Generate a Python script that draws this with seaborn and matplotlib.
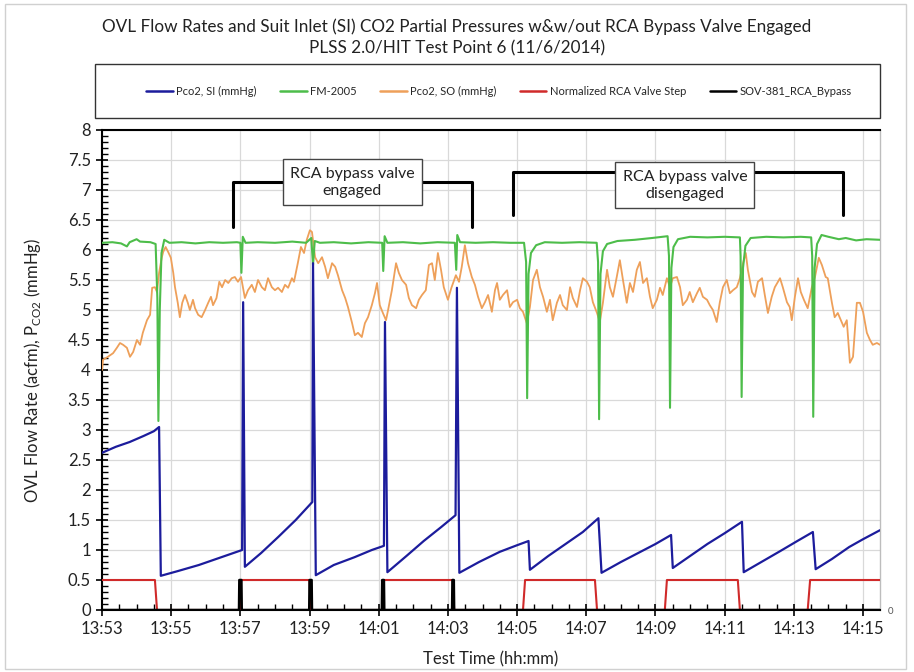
import numpy as np
import pandas as pd
import matplotlib
matplotlib.use("Agg")
import matplotlib.pyplot as plt
import seaborn as sns
from matplotlib.ticker import MultipleLocator, FuncFormatter
from matplotlib.patches import Rectangle
from matplotlib.lines import Line2D

# ---------------- data (minutes after 13:53) ----------------
si_t = [0.0, 0.4, 0.8, 1.2, 1.5, 1.65, 1.70, 2.2, 2.8, 3.4, 3.9, 4.05, 4.08, 4.13,
        4.6, 5.1, 5.6, 6.08, 6.10, 6.18, 6.7, 7.3, 7.8, 8.15, 8.18, 8.25, 8.8, 9.3,
        9.8, 10.22, 10.26, 10.33, 10.9, 11.5, 12.0, 12.33, 12.37, 12.9, 13.4, 13.9,
        14.35, 14.44, 15.0, 15.5, 16.0, 16.45, 16.50, 17.0, 17.5, 18.0, 18.5, 18.55,
        19.0, 19.6, 20.1, 20.55, 20.63, 21.1, 21.6, 22.0, 22.49]
si_v = [2.62, 2.72, 2.80, 2.90, 2.98, 3.05, 0.57, 0.65, 0.75, 0.87, 0.97, 1.00, 5.13, 0.72,
        0.95, 1.22, 1.50, 1.80, 5.78, 0.58, 0.75, 0.88, 1.00, 1.07, 4.80, 0.63, 0.90, 1.15,
        1.38, 1.58, 5.37, 0.62, 0.80, 0.97, 1.08, 1.15, 0.67, 0.90, 1.10, 1.30,
        1.53, 0.62, 0.80, 0.95, 1.10, 1.25, 0.70, 0.90, 1.10, 1.28, 1.47, 0.63,
        0.78, 0.98, 1.15, 1.30, 0.68, 0.85, 1.05, 1.18, 1.33]

fm_t = [0.0, 0.3, 0.55, 0.72, 0.8, 1.0, 1.1, 1.4, 1.55, 1.60, 1.63, 1.67, 1.72, 1.8, 1.95,
        2.3, 2.7, 3.1, 3.5, 3.9, 4.0, 4.03, 4.07, 4.15, 4.5, 5.0, 5.5, 5.9, 6.05, 6.10,
        6.15, 6.3, 6.7, 7.2, 7.7, 8.1, 8.13, 8.17, 8.25, 8.7, 9.2, 9.7, 10.2, 10.24,
        10.27, 10.35, 10.8, 11.3, 11.8, 12.2, 12.26, 12.29, 12.33, 12.4, 12.55, 12.8,
        13.3, 13.8, 14.3, 14.34, 14.37, 14.41, 14.48, 14.6, 14.9, 15.4, 15.9, 16.35,
        16.39, 16.42, 16.46, 16.52, 16.65, 17.0, 17.5, 18.0, 18.44, 18.46, 18.49, 18.53,
        18.6, 18.75, 19.2, 19.7, 20.2, 20.5, 20.53, 20.56, 20.6, 20.67, 20.8, 21.0,
        21.3, 21.5, 21.8, 22.1, 22.49]
fm_v = [6.12, 6.13, 6.11, 6.06, 6.13, 6.18, 6.14, 6.13, 6.10, 5.20, 3.15, 5.00, 5.95, 6.17, 6.12,
        6.13, 6.11, 6.13, 6.12, 6.13, 6.12, 5.62, 6.22, 6.12, 6.13, 6.12, 6.14, 6.12, 6.20, 5.75,
        6.15, 6.12, 6.13, 6.11, 6.13, 6.12, 5.65, 6.23, 6.12, 6.13, 6.11, 6.13, 6.12, 5.67,
        6.25, 6.13, 6.12, 6.13, 6.12, 6.12, 5.80, 3.53, 5.60, 5.95, 6.08, 6.13,
        6.12, 6.13, 6.12, 5.80, 3.18, 5.60, 5.98, 6.10, 6.15, 6.17, 6.20, 6.23,
        5.90, 3.37, 5.70, 6.05, 6.18, 6.22, 6.21, 6.22, 6.21, 5.90, 3.55, 5.70,
        6.07, 6.20, 6.22, 6.21, 6.22, 6.21, 5.90, 3.22, 5.70, 6.10, 6.25, 6.22,
        6.18, 6.20, 6.16, 6.18, 6.17]

so_t = [0.0, 0.03, 0.17, 0.32, 0.43, 0.52, 0.61, 0.72, 0.81, 0.90, 1.01, 1.10, 1.18, 1.30,
        1.39, 1.45, 1.53, 1.59, 1.65, 1.73, 1.77, 1.84, 1.91, 1.99, 2.06, 2.11, 2.19, 2.25,
        2.32, 2.40, 2.48, 2.54, 2.63, 2.69, 2.78, 2.88, 2.98, 3.07, 3.15, 3.21, 3.31, 3.39,
        3.47, 3.56, 3.65, 3.75, 3.84, 3.93, 4.02, 4.13, 4.22, 4.33, 4.42, 4.51, 4.62, 4.71,
        4.80, 4.91, 5.00, 5.09, 5.20, 5.29, 5.38, 5.49, 5.55, 5.66, 5.75, 5.84, 5.92, 6.01,
        6.07, 6.16, 6.25, 6.36, 6.45, 6.53, 6.65, 6.74, 6.82, 6.94, 7.03, 7.11, 7.23, 7.31,
        7.40, 7.51, 7.60, 7.69, 7.80, 7.89, 7.95, 8.03, 8.12, 8.21, 8.27, 8.38, 8.50, 8.58,
        8.67, 8.79, 8.87, 8.96, 9.08, 9.16, 9.25, 9.36, 9.45, 9.54, 9.62, 9.71, 9.80, 9.88,
        10.00, 10.10, 10.23, 10.32, 10.40, 10.49, 10.58, 10.69, 10.78, 10.87, 10.98, 11.07,
        11.16, 11.27, 11.36, 11.42, 11.50, 11.59, 11.71, 11.79, 11.88, 12.00, 12.08, 12.17,
        12.28, 12.37, 12.46, 12.57, 12.66, 12.75, 12.86, 12.95, 13.03, 13.15, 13.24, 13.32,
        13.44, 13.53, 13.61, 13.73, 13.82, 13.90, 14.02, 14.10, 14.19, 14.31, 14.39, 14.48,
        14.60, 14.68, 14.77, 14.88, 14.97, 15.06, 15.17, 15.26, 15.35, 15.46, 15.55, 15.64,
        15.75, 15.84, 15.92, 16.04, 16.13, 16.21, 16.33, 16.42, 16.50, 16.62, 16.71, 16.79,
        16.91, 16.99, 17.08, 17.20, 17.28, 17.37, 17.49, 17.57, 17.66, 17.77, 17.86, 17.95,
        18.06, 18.15, 18.24, 18.35, 18.44, 18.53, 18.61, 18.67, 18.79, 18.87, 18.96, 19.08,
        19.16, 19.25, 19.36, 19.45, 19.60, 19.68, 19.80, 19.88, 19.94, 20.03, 20.12, 20.20,
        20.29, 20.40, 20.52, 20.61, 20.72, 20.81, 20.92, 20.98, 21.10, 21.18, 21.27, 21.36,
        21.44, 21.53, 21.62, 21.71, 21.82, 21.91, 22.00, 22.11, 22.20, 22.28, 22.40, 22.49]
so_v = [4.00, 4.17, 4.22, 4.28, 4.37, 4.45, 4.42, 4.37, 4.22, 4.30, 4.50, 4.42, 4.62, 4.83,
        4.92, 5.37, 5.38, 5.30, 5.62, 5.88, 5.97, 6.05, 5.97, 5.87, 5.62, 5.38, 5.12, 4.88,
        5.12, 5.25, 5.12, 5.00, 5.17, 5.03, 4.92, 4.88, 5.00, 5.12, 5.22, 5.08, 5.20, 5.47,
        5.38, 5.50, 5.45, 5.53, 5.55, 5.47, 5.55, 5.20, 5.33, 5.42, 5.30, 5.50, 5.38, 5.33,
        5.53, 5.38, 5.33, 5.37, 5.30, 5.42, 5.37, 5.53, 5.47, 5.78, 6.05, 5.95, 6.17, 6.33,
        6.30, 5.88, 5.78, 5.88, 5.72, 5.53, 5.78, 5.72, 5.58, 5.33, 5.20, 5.05, 4.78, 4.58,
        4.62, 4.55, 4.78, 4.88, 5.08, 5.28, 5.45, 5.08, 4.95, 4.83, 5.00, 5.33, 5.78, 5.62,
        5.50, 5.42, 5.20, 5.08, 5.03, 5.17, 5.25, 5.33, 5.75, 5.78, 5.50, 5.95, 5.67, 5.38,
        5.17, 5.37, 5.58, 5.47, 5.72, 6.08, 5.78, 5.55, 5.42, 5.22, 5.03, 5.13,
        5.25, 4.97, 5.33, 5.45, 5.17, 5.25, 5.33, 5.05, 5.13, 5.17, 5.03, 4.97,
        4.78, 5.05, 5.50, 5.67, 5.38, 5.22, 4.97, 5.17, 4.83, 5.12, 5.25, 5.08,
        5.00, 5.38, 5.20, 5.05, 5.33, 5.53, 5.47, 5.38, 5.13, 4.95, 4.80, 5.12,
        5.67, 5.38, 5.22, 5.55, 5.83, 5.50, 5.12, 5.45, 5.30, 5.67, 5.80, 5.45,
        5.53, 5.22, 5.03, 5.17, 5.37, 5.25, 5.53, 5.38, 5.53, 5.55, 5.38, 5.08,
        5.17, 5.30, 5.13, 5.28, 5.37, 5.22, 5.17, 5.08, 5.00, 4.80, 5.13, 5.38,
        5.50, 5.28, 5.33, 5.38, 5.53, 5.78, 5.95, 5.67, 5.30, 5.22, 5.47, 5.53,
        5.25, 4.95, 5.22, 5.38, 5.53, 5.38, 5.13, 5.05, 4.83, 5.22, 5.53, 5.30,
        5.17, 5.03, 5.38, 5.55, 5.87, 5.75, 5.55, 5.53, 5.12, 4.88, 4.95, 4.83,
        4.72, 4.83, 4.12, 4.22, 5.12, 5.12, 4.97, 4.62, 4.50, 4.42, 4.45, 4.42]

rca_t = [0.0, 1.53, 1.59, 3.99, 4.02, 6.00, 6.03, 8.10, 8.13, 10.14, 10.18, 12.17, 12.23,
         14.25, 14.31, 16.27, 16.33, 18.38, 18.44, 20.40, 20.47, 22.49]
rca_v = [0.5, 0.5, 0.0, 0.0, 0.5, 0.5, 0.0, 0.0, 0.5, 0.5, 0.0, 0.0, 0.5,
         0.5, 0.0, 0.0, 0.5, 0.5, 0.0, 0.0, 0.5, 0.5]

sov_t = [0.0, 3.96, 3.97, 4.03, 4.04, 5.99, 6.00, 6.06, 6.07, 8.09, 8.10, 8.15, 8.16,
         10.12, 10.13, 10.17, 10.18, 22.49]
sov_v = [0.0, 0.0, 0.5, 0.5, 0.0, 0.0, 0.5, 0.5, 0.0, 0.0, 0.5, 0.5, 0.0,
         0.0, 0.5, 0.5, 0.0, 0.0]

tick_minutes = [0, 2, 4, 6, 8, 10, 12, 14, 16, 18, 20, 22]
tick_labels = ["13:53", "13:55", "13:57", "13:59", "14:01", "14:03",
               "14:05", "14:07", "14:09", "14:11", "14:13", "14:15"]

series_names = ["Pco2, SI (mmHg)", "FM-2005", "Pco2, SO (mmHg)",
                "Normalized RCA Valve Step", "SOV-381_RCA_Bypass"]
series_colors = ["#1c1c9c", "#4dbd4a", "#eea05a", "#d02a2a", "#000000"]

# ---------------- figure ----------------
sns.set_theme(style="white")
plt.rcParams['font.family'] = ['Lato', 'DejaVu Sans']

fig = plt.figure(figsize=(9.14, 6.72), dpi=100)
ax = fig.add_axes([102/914, 62/672, 778/914, 480/672])

# outer chart border
fig.patches.append(Rectangle((0.006, 0.004), 0.985, 0.99, transform=fig.transFigure,
                             fill=False, edgecolor="#d0d0d0", linewidth=1.0))

df_so = pd.DataFrame({"t": so_t, "v": so_v})
df_fm = pd.DataFrame({"t": fm_t, "v": fm_v})
df_si = pd.DataFrame({"t": si_t, "v": si_v})
df_rca = pd.DataFrame({"t": rca_t, "v": rca_v})
df_sov = pd.DataFrame({"t": sov_t, "v": sov_v})

kw = dict(x="t", y="v", ax=ax, sort=False, estimator=None)
sns.lineplot(data=df_so, color=series_colors[2], linewidth=1.3, zorder=3, **kw)
sns.lineplot(data=df_fm, color=series_colors[1], linewidth=1.5, zorder=4, **kw)
sns.lineplot(data=df_si, color=series_colors[0], linewidth=1.6, zorder=5, **kw)
sns.lineplot(data=df_rca, color=series_colors[3], linewidth=1.5, zorder=6, **kw)
sns.lineplot(data=df_sov, color=series_colors[4], linewidth=1.8, zorder=7, **kw)

ax.set_xlim(0, 22.49)
ax.set_ylim(0, 8)
ax.xaxis.set_major_locator(MultipleLocator(2))
ax.xaxis.set_minor_locator(MultipleLocator(0.5))
ax.set_xticks(tick_minutes)
ax.set_xticklabels(tick_labels)
ax.yaxis.set_major_locator(MultipleLocator(0.5))
ax.yaxis.set_minor_locator(MultipleLocator(0.1))
ax.yaxis.set_major_formatter(FuncFormatter(lambda v, p: f"{v:g}"))

ax.grid(True, which="major", color="#d9d9d9", linewidth=0.9, zorder=0)
ax.set_axisbelow(True)
ax.tick_params(axis="both", which="major", direction="inout", length=8, width=1.2,
               color="black", labelsize=12, labelcolor="#222222", pad=4)
ax.tick_params(axis="both", which="minor", direction="in", length=4, width=1.0,
               color="black")
ax.tick_params(axis="y", which="both", left=True, right=False)
ax.tick_params(axis="x", which="both", bottom=True, top=False)

for side in ["left", "bottom", "top"]:
    ax.spines[side].set_color("black")
    ax.spines[side].set_linewidth(1.5)
ax.spines["right"].set_color("#bdbdbd")
ax.spines["right"].set_linewidth(1.0)

ax.set_xlabel("Test Time (hh:mm)", fontsize=12, color="#222222", labelpad=10)
ax.set_ylabel("OVL Flow Rate (acfm), P$_{\\mathregular{CO2}}$ (mmHg)", fontsize=12,
              color="#222222", labelpad=18)

fig.text(0.5, 1 - 27/672, "OVL Flow Rates and Suit Inlet (SI) CO2 Partial Pressures w&w/out RCA Bypass Valve Engaged",
         ha="center", va="center", fontsize=12.3, color="#222222")
fig.text(0.5, 1 - 48/672, "PLSS 2.0/HIT Test Point 6 (11/6/2014)",
         ha="center", va="center", fontsize=12.3, color="#222222")

# secondary axis zero label
fig.text(890/914, 1 - 612/672, "0", ha="center", va="center", fontsize=7, color="#555555")

# legend box + legend
fig.patches.append(Rectangle((95/914, 1 - 118/672), 785/914, 54/672, transform=fig.transFigure,
                             fill=False, edgecolor="#333333", linewidth=1.0))
handles = [Line2D([0], [0], color=c, linewidth=1.8) for c in series_colors]
fig.legend(handles, series_names, loc="center", ncol=5,
           bbox_to_anchor=(499/914, 1 - 91/672),
           frameon=False, fontsize=8, handlelength=2.4, handletextpad=0.3,
           columnspacing=2.1, borderaxespad=0.0)

# bracket annotations
def bracket(x0, x1, yb, yt, xc, yc, text):
    ax.plot([x0, x0, x1, x1], [yb, yt, yt, yb], color="black", linewidth=2.2,
            solid_joinstyle="round", zorder=8, clip_on=False)
    ax.text(xc, yc, text, ha="center", va="center", fontsize=11.5, color="#222222",
            linespacing=1.3, zorder=9,
            bbox=dict(boxstyle="square,pad=0.45", facecolor="white",
                      edgecolor="#444444", linewidth=1.0))

bracket(3.79, 10.69, 6.38, 7.13, 7.23, 7.13, "RCA bypass valve\nengaged")
bracket(11.88, 21.42, 6.58, 7.30, 16.85, 7.08, "RCA bypass valve\ndisengaged")

fig.savefig("out.png", dpi=100)
